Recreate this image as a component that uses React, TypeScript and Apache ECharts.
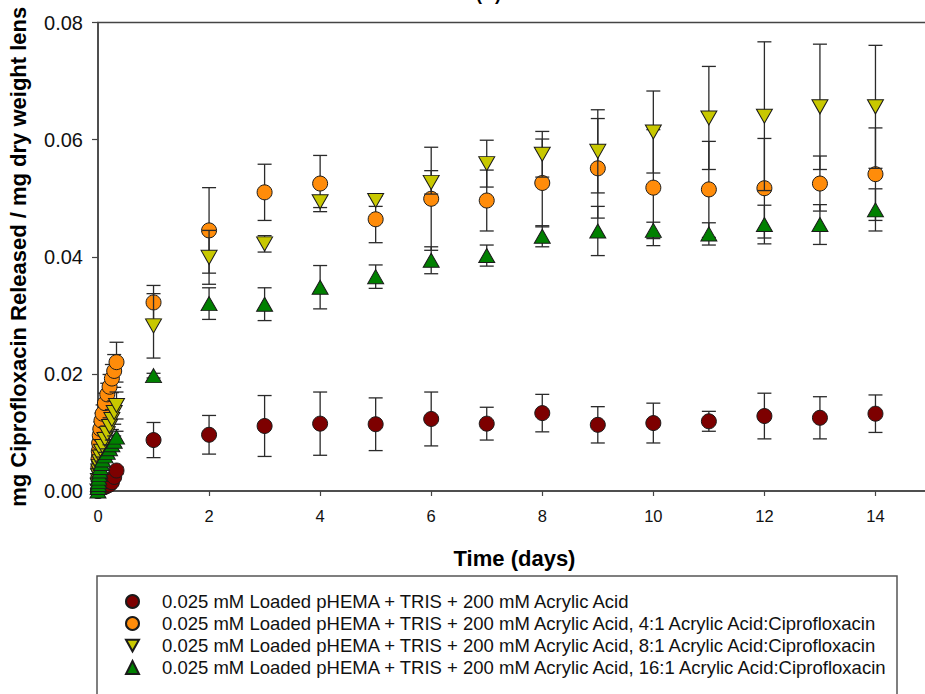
import React, { useEffect, useRef } from "react";
import * as echarts from "echarts";

// ---------- data ----------
const seriesNames = [
  "0.025 mM Loaded pHEMA + TRIS + 200 mM Acrylic Acid",
  "0.025 mM Loaded pHEMA + TRIS + 200 mM Acrylic Acid, 4:1 Acrylic Acid:Ciprofloxacin",
  "0.025 mM Loaded pHEMA + TRIS + 200 mM Acrylic Acid, 8:1 Acrylic Acid:Ciprofloxacin",
  "0.025 mM Loaded pHEMA + TRIS + 200 mM Acrylic Acid, 16:1 Acrylic Acid:Ciprofloxacin",
];

// time in days: early sampling (hours expressed in days) then daily
const earlyTimes = [0, 0.0035, 0.0069, 0.0104, 0.0139, 0.0208, 0.0313, 0.0417, 0.0625, 0.0833, 0.125, 0.1667, 0.2083, 0.25, 0.2917, 0.3333];
const dailyTimes = [1, 2, 3, 4, 5, 6, 7, 8, 9, 10, 11, 12, 13, 14];

const redEarly = [0, 0.0001, 0.0001, 0.0002, 0.0002, 0.0003, 0.0004, 0.0004, 0.0005, 0.0006, 0.0007, 0.0009, 0.0011, 0.0015, 0.0024, 0.0035];
const redEarlyErr = [0, 0.0001, 0.0001, 0.0001, 0.0001, 0.0001, 0.0002, 0.0002, 0.0002, 0.0002, 0.0003, 0.0003, 0.0003, 0.0004, 0.0005, 0.0006];
const redDaily = [0.0087, 0.0096, 0.0111, 0.0115, 0.0114, 0.0123, 0.0115, 0.0133, 0.0113, 0.0116, 0.0119, 0.0128, 0.0125, 0.0132];
const redDailyErr = [0.003, 0.0033, 0.0052, 0.0054, 0.0045, 0.0046, 0.0028, 0.0032, 0.0031, 0.0034, 0.0017, 0.0039, 0.0036, 0.0032];

const orangeEarly = [0, 0.0022, 0.0040, 0.0055, 0.0068, 0.0082, 0.0095, 0.0106, 0.0120, 0.0132, 0.0150, 0.0165, 0.0178, 0.0192, 0.0205, 0.0220];
const orangeEarlyErr = [0, 0.0003, 0.0005, 0.0006, 0.0008, 0.0009, 0.0010, 0.0012, 0.0013, 0.0015, 0.0017, 0.0019, 0.0021, 0.0024, 0.0028, 0.0034];
const orangeDaily = [0.0322, 0.0445, 0.051, 0.0525, 0.0464, 0.0499, 0.0496, 0.0526, 0.0551, 0.0518, 0.0515, 0.0517, 0.0525, 0.0541];
const orangeDailyErr = [0.0029, 0.0073, 0.0048, 0.0048, 0.004, 0.0088, 0.0052, 0.0075, 0.0085, 0.0099, 0.0082, 0.0085, 0.0047, 0.0079];

const yellowEarly = [0, 0.0010, 0.0018, 0.0026, 0.0034, 0.0042, 0.0050, 0.0058, 0.0068, 0.0076, 0.0088, 0.0098, 0.0110, 0.0122, 0.0134, 0.0146];
const yellowEarlyErr = [0, 0.0002, 0.0003, 0.0004, 0.0005, 0.0006, 0.0007, 0.0008, 0.0009, 0.0010, 0.0012, 0.0013, 0.0015, 0.0017, 0.0020, 0.0023];
const yellowDaily = [0.0282, 0.0399, 0.0422, 0.0494, 0.0496, 0.0527, 0.0559, 0.0575, 0.058, 0.0613, 0.0637, 0.064, 0.0656, 0.0656];
const yellowDailyErr = [0.0055, 0.0046, 0.0014, 0.001, 0.001, 0.002, 0.004, 0.0039, 0.0071, 0.007, 0.0088, 0.0127, 0.0107, 0.0105];

const greenEarly = [0, 0.0006, 0.0011, 0.0016, 0.0022, 0.0028, 0.0034, 0.0040, 0.0047, 0.0053, 0.0060, 0.0066, 0.0072, 0.0079, 0.0085, 0.0092];
const greenEarlyErr = [0, 0.0001, 0.0001, 0.0002, 0.0002, 0.0003, 0.0003, 0.0004, 0.0004, 0.0005, 0.0006, 0.0006, 0.0007, 0.0008, 0.0009, 0.0010];
const greenDaily = [0.0197, 0.032, 0.0319, 0.0348, 0.0366, 0.0394, 0.0402, 0.0435, 0.0444, 0.0445, 0.0439, 0.0455, 0.0455, 0.048];
const greenDailyErr = [0.0004, 0.0027, 0.0028, 0.0037, 0.002, 0.0023, 0.0018, 0.0018, 0.0042, 0.0014, 0.0019, 0.0033, 0.0034, 0.0036];

const xTicks = [0, 2, 4, 6, 8, 10, 12, 14];
const yTicks = [0, 0.02, 0.04, 0.06, 0.08];

// ---------- styling ----------
const FONT = 'Arial, "Liberation Sans", Helvetica, sans-serif';
const colors = ["#7d0000", "#ff8c0a", "#c8c800", "#008000"];
const downTri = "path://M0,0L10,0L5,9Z";
const symbols = ["circle", "circle", downTri, "triangle"];
const symbolSizes: any[] = [15, 15, [16, 14], [16, 14]];

const times = [...earlyTimes, ...dailyTimes];
const means = [
  [...redEarly, ...redDaily],
  [...orangeEarly, ...orangeDaily],
  [...yellowEarly, ...yellowDaily],
  [...greenEarly, ...greenDaily],
];
const errs = [
  [...redEarlyErr, ...redDailyErr],
  [...orangeEarlyErr, ...orangeDailyErr],
  [...yellowEarlyErr, ...yellowDailyErr],
  [...greenEarlyErr, ...greenDailyErr],
];

function errorSeries(i: number) {
  const data = times
    .map((t, k) => [t, means[i][k] - errs[i][k], means[i][k] + errs[i][k], errs[i][k]])
    .filter((d) => d[3] > 0);
  return {
    type: "custom",
    name: seriesNames[i] + " (error)",
    z: 2 + i * 2,
    silent: true,
    clip: false,
    encode: { x: 0, y: [1, 2] },
    data,
    renderItem: (_params: any, api: any) => {
      const x = api.value(0);
      const top = api.coord([x, api.value(2)]);
      const bot = api.coord([x, api.value(1)]);
      const hw = 7;
      const style = { stroke: "#2a2a2a", lineWidth: 1.3 };
      return {
        type: "group",
        children: [
          { type: "line", shape: { x1: top[0], y1: top[1], x2: bot[0], y2: bot[1] }, style },
          { type: "line", shape: { x1: top[0] - hw, y1: top[1], x2: top[0] + hw, y2: top[1] }, style },
          { type: "line", shape: { x1: bot[0] - hw, y1: bot[1], x2: bot[0] + hw, y2: bot[1] }, style },
        ],
      };
    },
  };
}

function scatterSeries(i: number) {
  return {
    type: "scatter",
    name: seriesNames[i],
    z: 3 + i * 2,
    symbol: symbols[i],
    symbolSize: symbolSizes[i],
    symbolKeepAspect: false,
    itemStyle: { color: colors[i], borderColor: "#1a1a1a", borderWidth: 1, opacity: 1 },
    data: times.map((t, k) => [t, means[i][k]]),
  };
}

export default function App() {
  const ref = useRef<HTMLDivElement>(null);
  useEffect(() => {
    if (!ref.current) return;
    const chart = echarts.init(ref.current, undefined, { renderer: "svg" });
    const axisLine = { show: true, lineStyle: { color: "#444", width: 1.5 } };
    const option: any = {
      animation: false,
      backgroundColor: "#fff",
      textStyle: { fontFamily: FONT },
      grid: {
        left: 98,
        top: 22.5,
        right: -6,
        bottom: 203,
        show: true,
        borderColor: "#444",
        borderWidth: 1.5,
        backgroundColor: "transparent",
        containLabel: false,
        outerBoundsMode: "none",
      },
      xAxis: {
        type: "value",
        min: 0,
        max: 15,
        interval: 2,
        name: "Time (days)",
        nameLocation: "middle",
        nameGap: 56,
        nameTextStyle: { fontFamily: FONT, fontSize: 22, fontWeight: "bold", color: "#000" },
        axisLine,
        axisTick: { show: true, length: 5, lineStyle: { color: "#444", width: 1.2 }, customValues: xTicks },
        axisLabel: {
          fontFamily: FONT,
          fontSize: 16.5,
          color: "#111",
          margin: 16,
          customValues: xTicks,
          formatter: (v: number) => String(v),
        },
        splitLine: { show: false },
      },
      yAxis: {
        type: "value",
        min: 0,
        max: 0.08,
        interval: 0.02,
        name: "mg Ciprofloxacin Released / mg dry weight lens",
        nameLocation: "middle",
        nameGap: 69,
        nameTextStyle: { fontFamily: FONT, fontSize: 22, fontWeight: "bold", color: "#000" },
        axisLine,
        axisTick: { show: true, length: 6, lineStyle: { color: "#444", width: 1.2 }, customValues: yTicks },
        axisLabel: {
          fontFamily: FONT,
          fontSize: 20,
          color: "#111",
          margin: 15,
          customValues: yTicks,
          formatter: (v: number) => v.toFixed(2),
        },
        splitLine: { show: false },
      },
      legend: {
        orient: "vertical",
        left: 125,
        top: 592,
        padding: 0,
        itemWidth: 13,
        itemHeight: 13,
        itemGap: 3,
        data: seriesNames,
        textStyle: { fontFamily: FONT, fontSize: 18.5, color: "#111", padding: [0, 0, 0, 18], lineHeight: 18 },
        selectedMode: false,
      },
      graphic: [
        {
          type: "rect",
          shape: { x: 97, y: 576, width: 800, height: 160 },
          style: { fill: "none", stroke: "#555", lineWidth: 1.5 },
          z: 0,
        },
        {
          type: "text",
          x: 476,
          y: -15,
          style: { text: "(A)", font: `bold 18px ${FONT}`, fill: "#000" },
        },
      ],
      series: [0, 1, 2, 3].flatMap((i) => [errorSeries(i), scatterSeries(i)]),
    };
    chart.setOption(option);
    return () => chart.dispose();
  }, []);
  return (
    <div
      ref={ref}
      style={{ position: "absolute", left: 0, top: 0, width: 925, height: 694, background: "#fff" }}
    />
  );
}
